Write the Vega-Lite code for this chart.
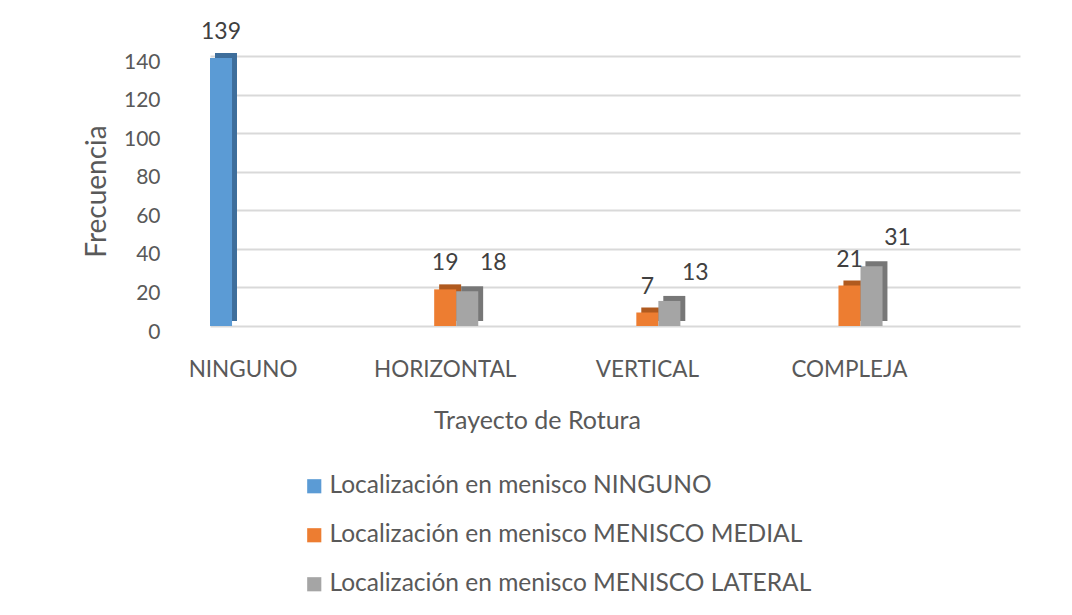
{
  "$schema": "https://vega.github.io/schema/vega-lite/v6.json",
  "autosize": {"type": "none"},
  "width": 810,
  "height": 270,
  "padding": {"left": 210, "top": 56, "right": 52, "bottom": 289},
  "background": "white",
  "config": {
    "font": "Lato",
    "view": {"stroke": null},
    "axis": {"labelColor": "#595959", "titleColor": "#595959", "labelFont": "Lato", "titleFont": "Lato", "titleFontWeight": "normal"},
    "legend": {"labelColor": "#595959", "labelFont": "Lato"}
  },
  "data": {
    "values": [
      {"cat": "NINGUNO", "serie": "Localización en menisco NINGUNO", "v": 139},
      {"cat": "HORIZONTAL", "serie": "Localización en menisco MENISCO MEDIAL", "v": 19},
      {"cat": "HORIZONTAL", "serie": "Localización en menisco MENISCO LATERAL", "v": 18},
      {"cat": "VERTICAL", "serie": "Localización en menisco MENISCO MEDIAL", "v": 7},
      {"cat": "VERTICAL", "serie": "Localización en menisco MENISCO LATERAL", "v": 13},
      {"cat": "COMPLEJA", "serie": "Localización en menisco MENISCO MEDIAL", "v": 21},
      {"cat": "COMPLEJA", "serie": "Localización en menisco MENISCO LATERAL", "v": 31}
    ]
  },
  "encoding": {
    "x": {
      "field": "cat", "type": "nominal", "sort": ["NINGUNO", "HORIZONTAL", "VERTICAL", "COMPLEJA"],
      "scale": {"paddingInner": 0.673, "paddingOuter": 0.34, "align": 0},
      "axis": {"title": "Trayecto de Rotura", "labelAngle": 0, "labelFontSize": 22.5, "titleFontSize": 25, "domain": false, "ticks": false, "labelPadding": 32, "titlePadding": 28, "titleX": 327, "titleAlign": "center", "titleAnchor": null}
    },
    "y": {
      "field": "v", "type": "quantitative",
      "scale": {"domain": [0, 140]},
      "axis": {"title": "Frecuencia", "values": [0, 20, 40, 60, 80, 100, 120, 140], "labelFontSize": 21, "titleFontSize": 28, "domain": false, "ticks": false, "labelPadding": 50, "labelOffset": 6, "titlePadding": 12, "gridColor": "#d9d9d9", "gridWidth": 2}
    }
  },
  "layer": [
    {
      "mark": {"type": "bar", "yOffset": -5},
      "encoding": {
        "xOffset": {
          "field": "serie", "type": "nominal",
          "sort": ["Localización en menisco NINGUNO", "Localización en menisco MENISCO MEDIAL", "Localización en menisco MENISCO LATERAL"],
          "scale": {"domain": ["Localización en menisco NINGUNO", "Localización en menisco MENISCO MEDIAL", "Localización en menisco MENISCO LATERAL"], "paddingInner": 0, "paddingOuter": 0, "range": [5, 71]}
        },
        "color": {
          "field": "serie", "type": "nominal",
          "scale": {"domain": ["Localización en menisco NINGUNO", "Localización en menisco MENISCO MEDIAL", "Localización en menisco MENISCO LATERAL"], "range": ["#3E6E9B", "#B05A1F", "#777777"]},
          "legend": null
        }
      }
    },
    {
      "mark": {"type": "bar"},
      "encoding": {
        "xOffset": {
          "field": "serie", "type": "nominal",
          "sort": ["Localización en menisco NINGUNO", "Localización en menisco MENISCO MEDIAL", "Localización en menisco MENISCO LATERAL"],
          "scale": {"domain": ["Localización en menisco NINGUNO", "Localización en menisco MENISCO MEDIAL", "Localización en menisco MENISCO LATERAL"], "paddingInner": 0, "paddingOuter": 0}
        },
        "color": {
          "field": "serie", "type": "nominal",
          "sort": ["Localización en menisco NINGUNO", "Localización en menisco MENISCO MEDIAL", "Localización en menisco MENISCO LATERAL"],
          "scale": {"domain": ["Localización en menisco NINGUNO", "Localización en menisco MENISCO MEDIAL", "Localización en menisco MENISCO LATERAL"], "range": ["#5B9BD5", "#ED7D31", "#A5A5A5"]},
          "legend": {"title": null, "orient": "none", "legendX": 92, "legendY": 418, "direction": "vertical", "symbolType": "square", "symbolSize": 200, "labelFontSize": 24.5, "labelLimit": 0, "rowPadding": 24, "symbolStrokeWidth": 0, "labelOffset": 3}
        }
      }
    },
    {
      "transform": [{"filter": "datum.serie != 'Localización en menisco MENISCO LATERAL'"}],
      "mark": {"type": "text", "dy": -26, "fontSize": 23, "color": "#404040"},
      "encoding": {
        "xOffset": {
          "field": "serie", "type": "nominal",
          "sort": ["Localización en menisco NINGUNO", "Localización en menisco MENISCO MEDIAL", "Localización en menisco MENISCO LATERAL"],
          "scale": {"domain": ["Localización en menisco NINGUNO", "Localización en menisco MENISCO MEDIAL", "Localización en menisco MENISCO LATERAL"], "padding": 0.5}
        },
        "text": {"field": "v", "type": "quantitative"}
      }
    },
    {
      "transform": [{"filter": "datum.serie == 'Localización en menisco MENISCO LATERAL'"}],
      "mark": {"type": "text", "dy": -28, "dx": 26, "fontSize": 23, "color": "#404040"},
      "encoding": {
        "xOffset": {
          "field": "serie", "type": "nominal",
          "sort": ["Localización en menisco NINGUNO", "Localización en menisco MENISCO MEDIAL", "Localización en menisco MENISCO LATERAL"],
          "scale": {"domain": ["Localización en menisco NINGUNO", "Localización en menisco MENISCO MEDIAL", "Localización en menisco MENISCO LATERAL"], "padding": 0.5}
        },
        "text": {"field": "v", "type": "quantitative"}
      }
    }
  ],
  "resolve": {"scale": {"color": "independent", "xOffset": "independent"}}
}
